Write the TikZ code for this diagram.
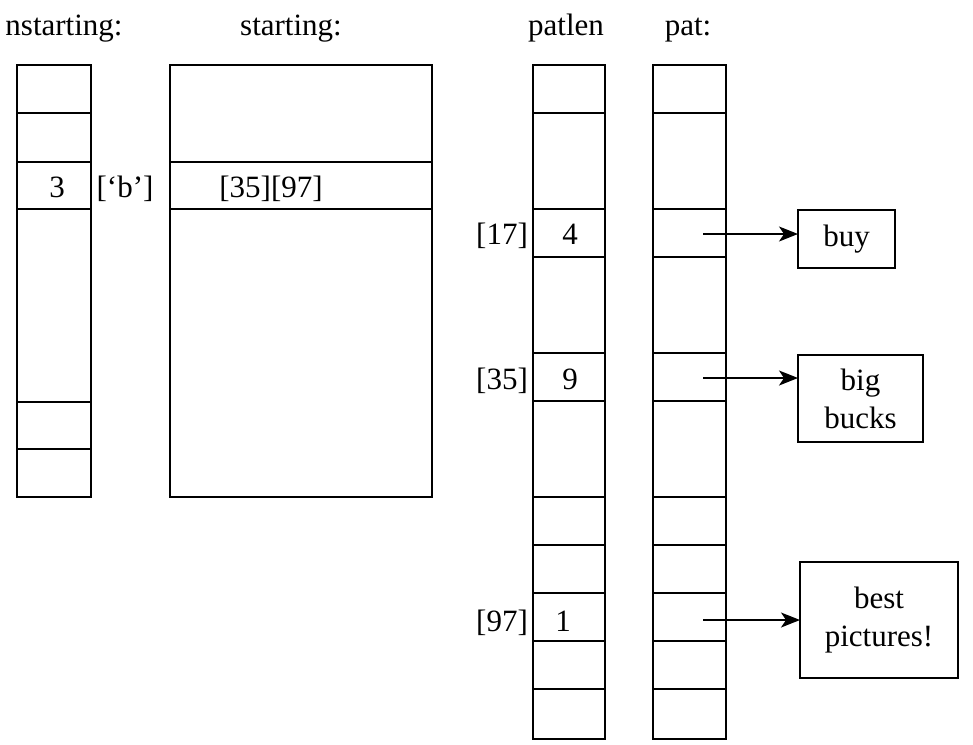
\documentclass[tikz,border=0pt]{standalone}
\usepackage{fontspec}
\setmainfont{Liberation Serif}
\usetikzlibrary{arrows.meta}
\begin{document}
\begin{tikzpicture}[x=1pt,y=-1pt,
  every node/.style={font=\fontsize{31}{38}\selectfont},
  col/.style={draw,line width=1.6pt,inner sep=0pt,outer sep=0pt,anchor=north west},
  sep/.style={line width=1.6pt},
  thin/.style={line width=1.1pt},
  txt/.style={inner sep=0pt,anchor=base},
  box/.style={draw,line width=1.6pt,inner sep=0pt,outer sep=0pt,align=center,anchor=north west},
  arr/.style={line width=1.3pt,-{Stealth[length=19pt,width=15pt,inset=5pt]}}]
\useasboundingbox (0,0) rectangle (973,744);
% titles
\node[txt] (tns) at (64,35) {nstarting:};
\node[txt] (tst) at (291,35) {starting:};
\node[txt] (tpl) at (566,35) {patlen};
\node[txt] (tpt) at (688,35) {pat:};
% nstarting column
\node[col,minimum width=74pt,minimum height=432pt] (ns) at (17,65) {};
\foreach \yy in {113,209,449} \draw[sep] (17,\yy) -- (91,\yy);
\foreach \yy in {162,402} \draw[thin] (17,\yy) -- (91,\yy);
% starting column
\node[col,minimum width=262pt,minimum height=432pt] (st) at (170,65) {};
\draw[thin] (st.west |- 0,162) -- (st.east |- 0,162);
\draw[sep] (st.west |- 0,209) -- (st.east |- 0,209);
% patlen and pat columns
\node[col,minimum width=72pt,minimum height=674pt] (pl) at (533,65) {};
\node[col,minimum width=73pt,minimum height=674pt] (pt) at (653,65) {};
\foreach \yy in {113,209,257,353,401,497,545,593,641,689} {
  \draw[sep] (pl.west |- 0,\yy) -- (pl.east |- 0,\yy);
  \draw[sep] (pt.west |- 0,\yy) -- (pt.east |- 0,\yy);
}
% cell contents and indices
\node[txt] (v3) at (57,197) {3};
\node[txt] (ib) at (125,197) {[‘b’]};
\node[txt] (i3597) at (271,197) {[35][97]};
\node[txt] (i17) at (502,244) {[17]};
\node[txt] (v4) at (570,244) {4};
\node[txt] (i35) at (502,389) {[35]};
\node[txt] (v9) at (570,389) {9};
\node[txt] (i97) at (502,631) {[97]};
\node[txt] (v1) at (563,631) {1};
% string boxes
\node[box,minimum width=97pt,minimum height=58pt] (buy) at (798,210) {buy};
\node[box,minimum width=125pt,minimum height=87pt] (bb) at (798,355) {big\\bucks};
\node[box,minimum width=158pt,minimum height=116pt] (bp) at (800,562) {best\\pictures!};
% pointers
\coordinate (p17) at (703,234);
\coordinate (p35) at (703,378);
\coordinate (p97) at (703,620);
\draw[arr] (p17) -- (p17 -| buy.west);
\draw[arr] (p35) -- (p35 -| bb.west);
\draw[arr] (p97) -- (p97 -| bp.west);
\end{tikzpicture}
\end{document}
